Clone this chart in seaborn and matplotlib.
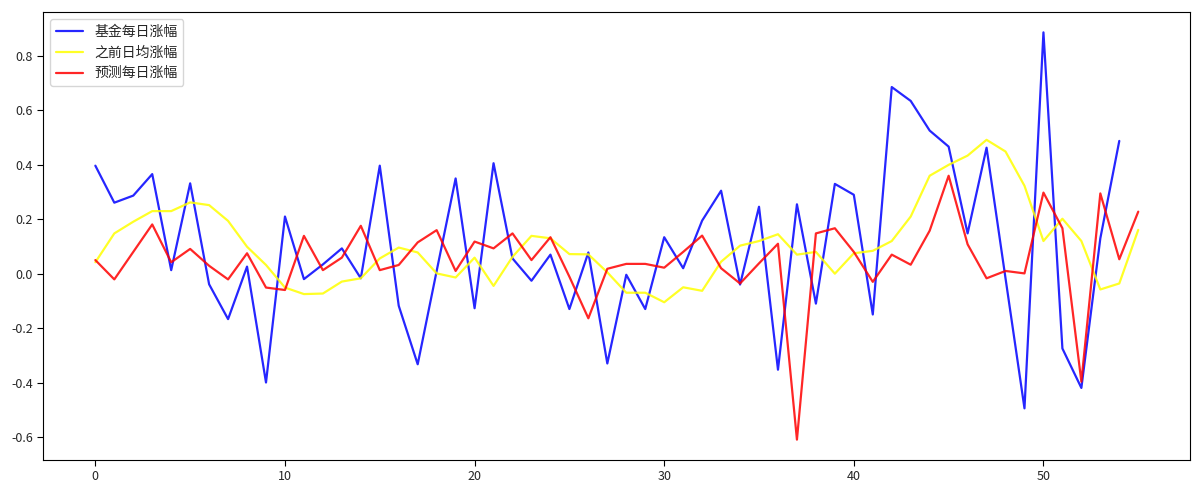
import matplotlib
matplotlib.use("Agg")
import matplotlib.pyplot as plt
import seaborn as sns

fund_daily = [0.397, 0.261, 0.287, 0.366, 0.013, 0.332, -0.039, -0.167, 0.026, -0.400,
              0.210, -0.020, 0.034, 0.093, -0.017, 0.397, -0.118, -0.333, 0.010, 0.350,
              -0.127, 0.406, 0.056, -0.026, 0.070, -0.130, 0.078, -0.330, -0.004, -0.130,
              0.134, 0.020, 0.195, 0.305, -0.040, 0.246, -0.353, 0.255, -0.110, 0.330,
              0.290, -0.150, 0.686, 0.635, 0.526, 0.467, 0.148, 0.463, -0.017, -0.495,
              0.887, -0.275, -0.420, 0.130, 0.488]
prev_avg = [0.042, 0.148, 0.191, 0.230, 0.230, 0.262, 0.252, 0.194, 0.099, 0.032,
            -0.051, -0.075, -0.073, -0.029, -0.017, 0.056, 0.096, 0.078, 0.001, -0.014,
            0.059, -0.045, 0.062, 0.139, 0.130, 0.072, 0.071, 0.005, -0.070, -0.070,
            -0.105, -0.050, -0.063, 0.044, 0.103, 0.120, 0.145, 0.070, 0.080, 0.000,
            0.075, 0.084, 0.120, 0.210, 0.360, 0.400, 0.434, 0.492, 0.449, 0.323,
            0.120, 0.202, 0.120, -0.058, -0.036, 0.161]
pred_daily = [0.050, -0.021, 0.080, 0.181, 0.042, 0.091, 0.029, -0.021, 0.075, -0.051,
              -0.060, 0.139, 0.013, 0.059, 0.176, 0.013, 0.032, 0.115, 0.160, 0.010,
              0.118, 0.093, 0.148, 0.050, 0.134, -0.011, -0.164, 0.018, 0.036, 0.036,
              0.022, 0.080, 0.140, 0.020, -0.036, 0.038, 0.110, -0.610, 0.148, 0.167,
              0.080, -0.030, 0.070, 0.033, 0.158, 0.360, 0.108, -0.017, 0.010, 0.001,
              0.298, 0.167, -0.397, 0.295, 0.053, 0.228]

sns.set_style("ticks")
plt.rcParams["font.family"] = ["Noto Sans CJK SC", "DejaVu Sans"]
plt.rcParams["axes.unicode_minus"] = False

fig, ax = plt.subplots(figsize=(12, 5), dpi=100)
fig.subplots_adjust(left=0.036, right=0.992, top=0.976, bottom=0.08)

sns.lineplot(x=list(range(len(fund_daily))), y=fund_daily, color="blue", alpha=0.85,
             label="基金每日涨幅", ax=ax, linewidth=1.6)
sns.lineplot(x=list(range(len(prev_avg))), y=prev_avg, color="yellow", alpha=0.85,
             label="之前日均涨幅", ax=ax, linewidth=1.6)
sns.lineplot(x=list(range(len(pred_daily))), y=pred_daily, color="red", alpha=0.85,
             label="预测每日涨幅", ax=ax, linewidth=1.6)

ax.set_xticks([0, 10, 20, 30, 40, 50])
ax.set_yticks([-0.6, -0.4, -0.2, 0.0, 0.2, 0.4, 0.6, 0.8])
ax.tick_params(labelsize=9, color="black", length=4, direction="out")
for s in ax.spines.values():
    s.set_color("black")
    s.set_linewidth(0.8)
ax.legend(loc="upper left", fontsize=10, frameon=True)

fig.savefig("out.png", dpi=100)
